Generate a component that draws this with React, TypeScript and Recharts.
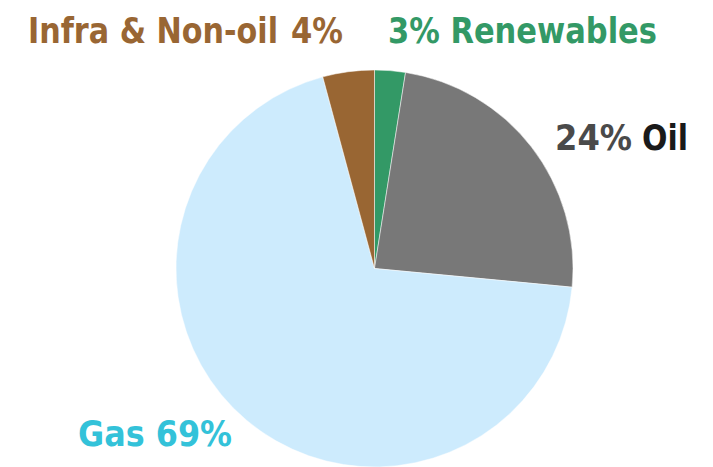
import { PieChart, Pie, Cell } from 'recharts';

const categories = ['Renewables', 'Oil', 'Gas', 'Infra & Non-oil'];
const shares = [2.5, 24.0, 69.3, 4.2];
const shareLabels = ['3%', '24%', '69%', '4%'];
const sliceColors = ['#339966', '#787878', '#cdebfd', '#996633'];

const data = categories.map((name, i) => ({ name, value: shares[i] }));

const FONT = '"DejaVu Sans Condensed", "DejaVu Sans", sans-serif';

// free-standing label layout
function Labels() {
  const base = { fontFamily: FONT, fontWeight: 700, fontSize: 36, lengthAdjust: 'spacingAndGlyphs' as const };
  return (
    <g>
      <text x={28} y={43} textLength={250} {...base} fill="#996633">
        {categories[3]}
      </text>
      <text x={291} y={43} textLength={52} {...base} fill="#996633">
        {shareLabels[3]}
      </text>
      <text x={388} y={43} textLength={269} {...base} fill="#339966">
        {shareLabels[0]} {categories[0]}
      </text>
      <text x={555} y={150} textLength={77} {...base} fill="#4a4a4a">
        {shareLabels[1]}
      </text>
      <text x={642} y={150} textLength={46} {...base} fill="#1a1a1a">
        {categories[1]}
      </text>
      <text x={78} y={446} textLength={154} {...base} fill="#33c2d9">
        {categories[2]} {shareLabels[2]}
      </text>
    </g>
  );
}

export default function App() {
  return (
    <div style={{ position: 'absolute', left: 0, top: 0, width: 713, height: 467, background: '#fff' }}>
      <PieChart width={713} height={467} margin={{ top: 0, right: 0, bottom: 0, left: 0 }}>
        <Pie
          data={data}
          dataKey="value"
          nameKey="name"
          cx={374.5}
          cy={268.5}
          outerRadius={198.5}
          startAngle={90}
          endAngle={-270}
          stroke="#ffffff"
          strokeWidth={0.5}
          isAnimationActive={false}
        >
          {data.map((d, i) => (
            <Cell key={d.name} fill={sliceColors[i]} />
          ))}
        </Pie>
        <Labels />
      </PieChart>
    </div>
  );
}
